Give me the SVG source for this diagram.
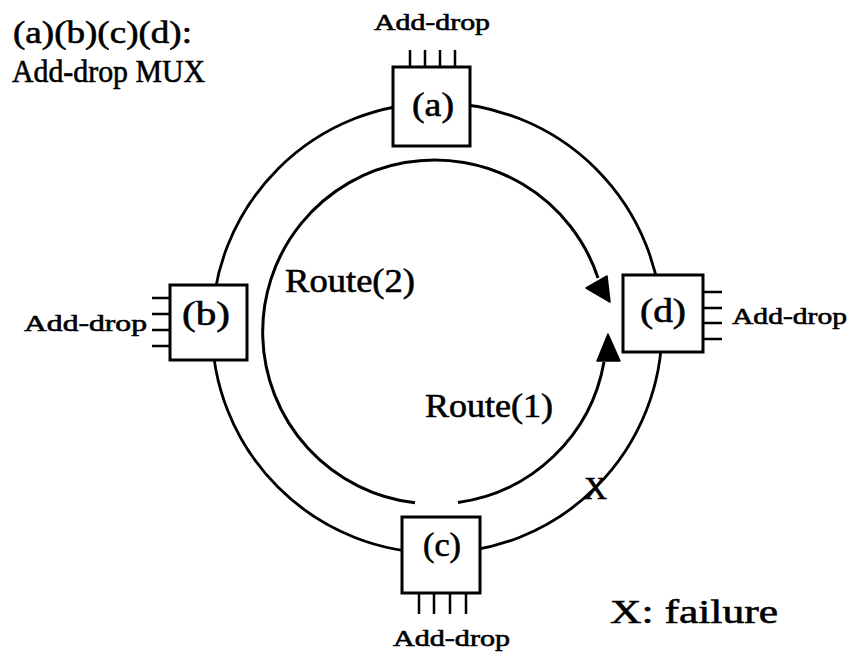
<svg xmlns="http://www.w3.org/2000/svg" width="852" height="657" viewBox="0 0 852 657">
<style>
  .t { font-family: "Liberation Serif", "DejaVu Serif", serif; fill: #000; stroke: #000; stroke-width: 0.6; }
  .box { fill: #fff; stroke: #000; stroke-width: 3; }
  .lead { stroke: #000; stroke-width: 2.5; fill: none; }
  .ring { fill: none; stroke: #000; stroke-width: 2.8; }
  .route { fill: none; stroke: #000; stroke-width: 3; }
  .head { fill: #000; stroke: #000; stroke-width: 1.5; stroke-linejoin: round; }
</style>
<rect width="852" height="657" fill="#fff"/>

<g id="connectors">
  <circle class="ring" cx="437" cy="328" r="225"/>
  <path class="route" d="M415,502.8 A172,172 0 1 1 598,278"/>
  <polygon class="head" points="586,288 607,276 610,302"/>
  <path class="route" d="M458,502.5 A172,172 0 0 0 604,362"/>
  <polygon class="head" points="608,334 597,361 620,361"/>
</g>

<g id="title">
  <text class="t" x="13" y="43" font-size="32" textLength="179" lengthAdjust="spacingAndGlyphs">(a)(b)(c)(d):</text>
  <text class="t" x="12" y="82" font-size="32" textLength="193" lengthAdjust="spacingAndGlyphs">Add-drop MUX</text>
</g>

<g id="node-a">
  <path class="lead" d="M410,50 V67 M425,50 V67 M440,50 V67 M455,50 V67"/>
  <rect class="box" x="393" y="67" width="77" height="79"/>
  <text class="t" x="412" y="116" font-size="34" textLength="42" lengthAdjust="spacingAndGlyphs">(a)</text>
  <text class="t" x="374" y="30" font-size="23" textLength="116" lengthAdjust="spacingAndGlyphs">Add-drop</text>
</g>

<g id="node-b">
  <path class="lead" d="M152,298 H170 M152,314 H170 M152,330 H170 M152,346 H170"/>
  <rect class="box" x="170" y="285" width="77" height="75"/>
  <text class="t" x="182" y="325" font-size="34" textLength="48" lengthAdjust="spacingAndGlyphs">(b)</text>
  <text class="t" x="24" y="331" font-size="23" textLength="123" lengthAdjust="spacingAndGlyphs">Add-drop</text>
</g>

<g id="node-c">
  <path class="lead" d="M419,593 V614 M434,593 V614 M450,593 V614 M466,593 V614"/>
  <rect class="box" x="402" y="517" width="78" height="76"/>
  <text class="t" x="423" y="556" font-size="34" textLength="38" lengthAdjust="spacingAndGlyphs">(c)</text>
  <text class="t" x="393" y="646" font-size="23" textLength="117" lengthAdjust="spacingAndGlyphs">Add-drop</text>
</g>

<g id="node-d">
  <path class="lead" d="M703,292 H722 M703,308 H722 M703,323 H722 M703,339 H722"/>
  <rect class="box" x="623" y="275" width="80" height="77"/>
  <text class="t" x="640" y="322" font-size="34" textLength="46" lengthAdjust="spacingAndGlyphs">(d)</text>
  <text class="t" x="732" y="324" font-size="23" textLength="115" lengthAdjust="spacingAndGlyphs">Add-drop</text>
</g>

<g id="labels">
  <text class="t" x="285" y="292" font-size="34" textLength="130" lengthAdjust="spacingAndGlyphs">Route(2)</text>
  <text class="t" x="425" y="417" font-size="34" textLength="128" lengthAdjust="spacingAndGlyphs">Route(1)</text>
  <text class="t" x="584" y="499" font-size="32">X</text>
  <text class="t" x="610" y="623" font-size="34" textLength="168" lengthAdjust="spacingAndGlyphs">X: failure</text>
</g>
</svg>
